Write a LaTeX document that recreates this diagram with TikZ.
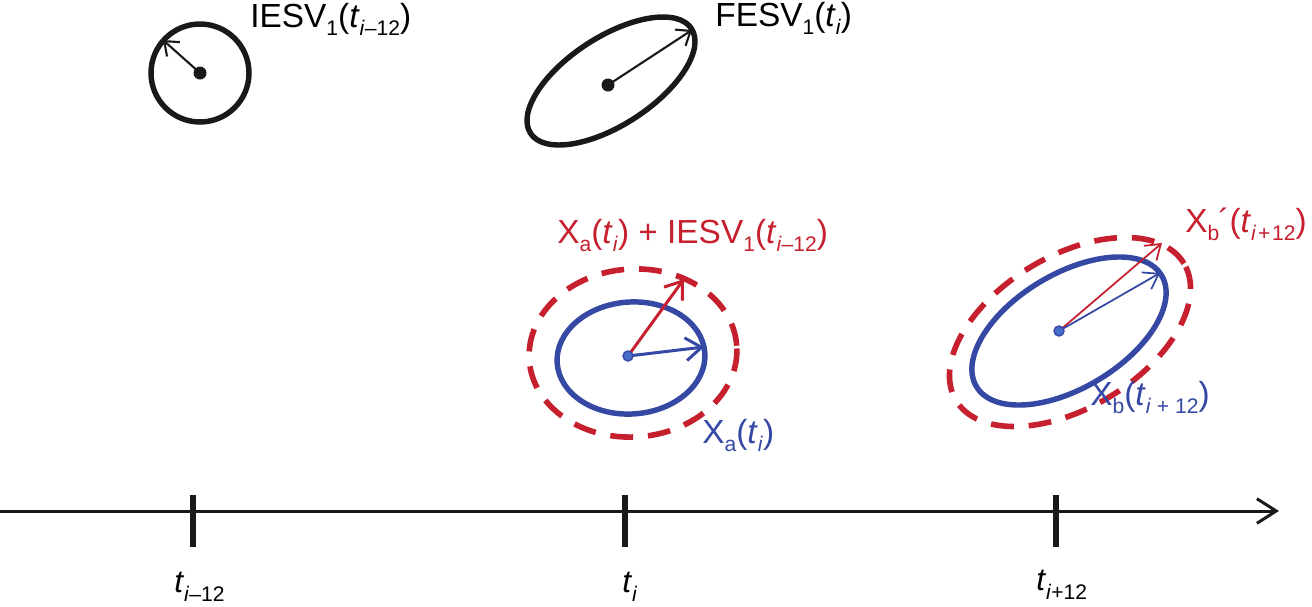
\documentclass[tikz,border=0pt]{standalone}
\usepackage{fontspec}
\setmainfont{Liberation Sans}
\usetikzlibrary{arrows.meta}
\definecolor{myred}{RGB}{198,32,46}
\definecolor{myblue}{RGB}{52,72,164}
\definecolor{dotblue}{RGB}{70,110,200}
\newcommand{\lowsub}[1]{\raisebox{-0.5ex}{\fontsize{12}{12}\selectfont #1}}
\newcommand{\axsub}[1]{\raisebox{-0.55ex}{\fontsize{12}{12}\selectfont #1}}
\tikzset{
  lbl/.style={font=\fontsize{19}{22}\selectfont, inner sep=0pt, anchor=base west},
  axlbl/.style={font=\fontsize{18}{22}\selectfont, inner sep=0pt, anchor=base west},
  thickblk/.style={line width=3.1pt, black!90},
  solidblue/.style={line width=3.1pt, myblue},
  dashred/.style={line width=3.2pt, myred, dash pattern=on 13pt off 8.5pt},
  vecblk/.style={line width=1.2pt, black!90, -{Straight Barb[length=7pt,width=11pt,line width=1.2pt]}},
  vecmid/.style={line width=1.7pt, -{Straight Barb[length=9pt,width=13pt,line width=1.7pt]}},
  vecthin/.style={line width=1.0pt, -{Straight Barb[length=8pt,width=11pt,line width=1.0pt]}},
  tickmark/.style={line width=3.4pt, black!90},
}
\begin{document}
\begin{tikzpicture}[x=0.02cm,y=-0.02cm]
\useasboundingbox (0,0) rectangle (1312,606);

% axis
\coordinate (axL) at (0,511);
\coordinate (axR) at (1279,511);
\draw[line width=1.7pt, black!90, -{Straight Barb[length=11pt,width=14pt,line width=1.7pt]}] (axL) -- (axR);
\coordinate (k1t) at (193,495); \coordinate (k1b) at (193,547);
\coordinate (k2t) at (625,495); \coordinate (k2b) at (625,547);
\coordinate (k3t) at (1056,495); \coordinate (k3b) at (1056,547);
\draw[tickmark] (k1t) -- (k1b);
\draw[tickmark] (k2t) -- (k2b);
\draw[tickmark] (k3t) -- (k3b);
\node[axlbl] (l1) at (174,592) {\textit{t}\axsub{\textit{i}–12}};
\node[axlbl] (l2) at (622,592) {\textit{t}\axsub{\textit{i}}};
\node[axlbl] (l3) at (1036,590) {\textit{t}\axsub{\textit{i}+12}};

% top-left circle
\coordinate (c1) at (200,73);
\draw[thickblk] (c1) circle[radius=0.98cm];
\coordinate (c1tip) at (163,40);
\draw[vecblk] (c1) -- (c1tip);
\fill[black!90] (c1) circle[radius=0.13cm];
\node[lbl] (iesv) at (250,27) {IESV\lowsub{1}(\textit{t}\lowsub{\textit{i}–12})};

% top ellipse
\coordinate (c2) at (611,81);
\coordinate (c2dot) at (608,85);
\draw[thickblk, rotate around={33:(c2)}] (c2) ellipse[x radius=1.92cm, y radius=0.88cm];
\coordinate (c2tip) at (692,30);
\draw[vecblk] (c2dot) -- (c2tip);
\fill[black!90] (c2dot) circle[radius=0.13cm];
\node[lbl] (fesv) at (715,26) {FESV\lowsub{1}(\textit{t}\lowsub{\textit{i}})};

% middle pair
\coordinate (c3) at (631,358);
\coordinate (c3r) at (633,353);
\coordinate (c3dot) at (628,356);
\draw[solidblue, rotate around={4:(c3)}] (c3) ellipse[x radius=1.48cm, y radius=1.12cm];
\draw[dashred, rotate around={4:(c3r)}] (c3r) ellipse[x radius=2.08cm, y radius=1.68cm];
\coordinate (c3bt) at (704,347);
\coordinate (c3rt) at (684,279);
\draw[vecmid, myred] (c3dot) -- (c3rt);
\draw[vecmid, myblue] (c3dot) -- (c3bt);
\fill[dotblue, draw=myblue, line width=0.8pt] (c3dot) circle[radius=0.1cm];
\node[lbl, text=myred] (xasum) at (557,243) {X\lowsub{a}(\textit{t}\lowsub{\textit{i}}) + IESV\lowsub{1}(\textit{t}\lowsub{\textit{i}–12})};
\node[lbl, text=myblue] (xa) at (702,443) {X\lowsub{a}(\textit{t}\lowsub{\textit{i}})};

% right pair
\coordinate (c4) at (1069,331);
\coordinate (c4r) at (1070,332);
\coordinate (c4dot) at (1059,331);
\draw[solidblue, rotate around={31:(c4)}] (c4) ellipse[x radius=2.16cm, y radius=1.14cm];
\draw[dashred, rotate around={31:(c4r)}] (c4r) ellipse[x radius=2.66cm, y radius=1.52cm];
\coordinate (c4bt) at (1160,273);
\coordinate (c4rt) at (1162,243);
\draw[vecthin, myred] (c4dot) -- (c4rt);
\draw[vecthin, myblue] (c4dot) -- (c4bt);
\fill[dotblue, draw=myblue, line width=0.8pt] (c4dot) circle[radius=0.1cm];
\node[lbl, text=myred, anchor=base east] (xbp) at (1307,232) {X\lowsub{b}\kern-0.5pt´(\textit{t}\lowsub{\textit{i}\kern1pt+\kern1pt12})};
\node[lbl, text=myblue] (xb) at (1090,405) {X\lowsub{b}(\textit{t}\lowsub{\textit{i} + 12})};
\end{tikzpicture}
\end{document}
